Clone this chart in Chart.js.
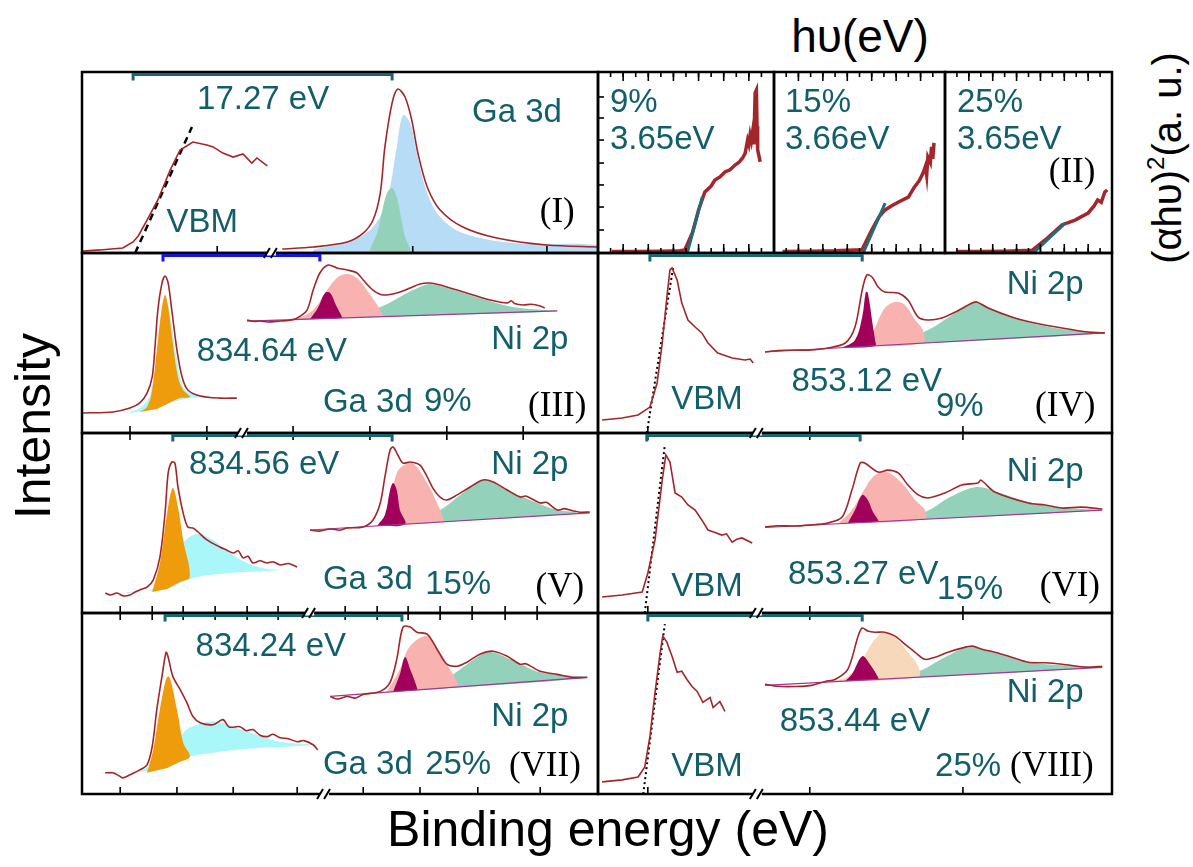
<!DOCTYPE html>
<html>
<head>
<meta charset="utf-8">
<script src="https://cdn.jsdelivr.net/npm/chart.js@4.4.0/dist/chart.umd.min.js"></script>
<style>
  body { margin: 0; width: 1193px; height: 867px; background: #fff; position: relative; overflow: hidden;
         font-family: "Liberation Sans", Arial, sans-serif; }
  canvas { position: absolute; }
  .ax { position: absolute; white-space: nowrap; line-height: 1; color: #000; transform: translate(-50%, -50%); }
  .rot { transform: translate(-50%, -50%) rotate(-90deg); }
  sup { font-size: 0.6em; vertical-align: 0.7em; line-height: 0; }
</style>
</head>
<body>
<div class="ax rot" style="left:33px; top:426px; font-size:50px;">Intensity</div>
<div class="ax" style="left:608px; top:829px; font-size:50px;">Binding energy (eV)</div>
<div class="ax" style="left:860px; top:36px; font-size:46px;">h&upsilon;(eV)</div>
<div class="ax rot" style="left:1167px; top:158px; font-size:40px;">(&alpha;h&upsilon;)<sup>2</sup>(a. u.)</div>
<script>
// ---------- data (x: relative energy axis, y: intensity a.u.) ----------

// panel I : valence band + Ga 3d (undoped)
const vbmI = [[0.2,1.1],[3.5,1.7],[7.9,2.8],[9.9,6.1],[10.9,9.4],[12.6,18.2],[14.7,29.3],[17.1,45.9],[19.0,56.9],[21.5,61.3],[24.2,59.7],[25.4,58.6],[27.3,55.2],[29.3,53],[31.2,54.7],[32.9,49.7],[33.9,52.5],[35.9,48.1]];
const vbmFitI = [[10.3,0],[21.3,69.6]];
const gaEnvI = [[38.8,2.2],[44.8,3.3],[51.4,6.1],[54.5,11],[56.4,18.2],[57.8,33.1],[58.7,58.6],[60.1,82.9],[61.2,90.6],[62.6,86.2],[63.9,73.5],[65.1,55.2],[66.9,36.5],[69.4,23.8],[73.8,14.4],[80.4,8.3],[90.1,4.4],[100,3.3]];
const gaBlueI = [[44.8,0.5],[44.8,1.7],[52.5,7.2],[56.4,14.4],[59.1,29.3],[61.0,58.6],[62.2,76.2],[63.6,71.8],[64.9,55.2],[66.9,33.1],[69.4,19.9],[73.8,11],[83.5,5.5],[100,4.4],[100,0.5]];
const gaGreenI = [[55.8,0.8],[55.8,1.7],[57.2,11],[58.1,22.1],[59.1,33.1],[60.1,35.9],[61.0,30.9],[61.8,19.9],[62.6,8.8],[63.6,2.2],[63.6,0.8]];

// panel II : Tauc plots, hv in eV
const uvA = [[3.11,0.8],[3.3,0.8],[3.5,1.0],[3.65,1.2],[3.69,1.7],[3.75,11],[3.80,23.8],[3.85,33.7],[3.90,37],[3.93,40.3],[3.97,42],[4.01,44.8],[4.05,46],[4.09,48.6],[4.12,50],[4.15,52.5],[4.17,55],[4.19,62.4],[4.20,60],[4.21,65.2],[4.22,62],[4.23,66.9],[4.24,60],[4.25,88.4],[4.26,90],[4.265,70],[4.27,57],[4.29,50.3]];
const uvFitA = [[3.71,0],[3.83,31]];
const uvB = [[3.07,0.8],[3.3,1],[3.5,1.2],[3.72,1.8],[3.80,12.7],[3.86,20],[3.91,23.8],[3.96,26],[4.02,28.2],[4.10,30.9],[4.15,36.5],[4.19,40],[4.22,44.2],[4.24,48],[4.25,43],[4.26,53],[4.28,50],[4.29,58.6],[4.30,52],[4.31,60.8]];
const uvFitB = [[3.73,0],[3.91,27.6]];
const uvC = [[3.10,0.8],[3.3,0.8],[3.5,1],[3.73,1.5],[3.84,7.2],[3.98,15.5],[4.09,18.2],[4.20,22.1],[4.25,26],[4.28,29.3],[4.31,28],[4.34,33.7],[4.36,34.8]];
const uvFitC = [[3.74,0],[4.01,16.6]];
const uvTicks = [3.1,3.2,3.3,3.4,3.5,3.6,3.7,3.8,3.9,4.0,4.1,4.2,4.3];
const uvMajor = [3.2,3.4,3.6,3.8,4.0,4.2];
const uvYTicks = [12.7,25.4,37.6,49.7,62.4,74.6,86.2];

// panel III : Ga 3d + Ni 2p, 9 %
const gaEnvIII = [[0.2,11.1],[6,11.7],[9.3,13.9],[11.2,16.7],[12.6,22.2],[13.6,31.1],[14.1,46.1],[14.7,68.3],[15.5,83.3],[16.1,87.2],[16.7,83.3],[17.4,68.3],[18.4,46.1],[19.4,31.1],[20.5,23.9],[22.9,20.6],[26.7,19.4],[30,19.4]];
const gaCyanIII = [[9.3,11.1],[9.3,11.7],[11.2,13.9],[13.2,21.1],[15.1,57.2],[16.1,75.5],[17.1,65.6],[18.4,40.6],[19.6,25.6],[20.9,22.2],[22.9,21.1],[24.8,20.6],[24.8,20],[20.9,19.4],[17.1,16.7],[13.2,12.8]];
const gaOrangeIII = [[11.2,11.7],[12.6,14.4],[13.6,23.9],[14.5,46.1],[15.5,70],[16.1,76.7],[16.7,70],[17.6,50],[18.6,31.1],[19.6,23.9],[20.9,20],[19,19.4],[16.5,16.1],[14.5,13.3]];
const niEnvIII = [[32,62.8],[33.5,62],[34.5,62.2],[36,61.7],[38.4,62.2],[40,62.5],[41.7,63.9],[43.6,68.3],[44.8,79.4],[46.1,88.9],[47.7,93.3],[49.4,91.7],[51.4,90.6],[53.3,88.9],[54.5,85],[56.4,79.4],[58.3,76.7],[61,77.8],[63.6,80.6],[65.5,82.8],[67.4,83.3],[69.4,82.2],[72.7,79.4],[75.8,76.7],[79.1,73.9],[82.4,72.2],[83.2,73.5],[83.8,72],[85.5,71.1],[87,71.5],[88.8,70.6],[89.7,69.4]];
const niBaseIII = [[32,62.2],[92.1,67.8]];
const niPinkIII = [[41.7,63.3],[44.8,68.3],[47.5,79.4],[49.4,86.1],[51.4,88.3],[53.3,86.1],[55.2,79.4],[57.2,71.1],[58.3,65.6],[58.3,65],[50,63.9],[41.7,62.8]];
const niMagIII = [[44.2,63.3],[45.7,69.4],[47.1,77.8],[48.1,77.8],[49.2,71.1],[50.4,64.4],[50.4,63.9],[44.2,63.3]];
const niGreenIII = [[50,64.4],[57.8,70],[63,77.8],[65.5,81.1],[67.4,82.8],[70.7,80.6],[77.1,75],[83.5,70],[92.1,67.8],[92.1,67.5],[50,63.9]];

// panel IV : VBM + Ni 2p, 9 %
const vbmIV = [[0.8,7.2],[4.7,8.3],[7.8,10],[10.1,14.4],[11.5,27.8],[12.5,50],[13.4,75.5],[14,90.6],[14.4,91.7],[15.4,85],[16.3,72.2],[17.5,62.8],[18.9,58.9],[20.2,55.6],[21.4,50],[23.3,44.4],[26.1,41.7],[28.6,40.6],[29.6,41.1],[30.2,38.9]];
const vbmFitIV = [[9.5,0],[14.6,91.7]];
const niEnvIV = [[32.5,45],[35,45.8],[38.3,46.1],[41,46],[44.7,47.2],[48.1,50],[50,58.9],[51.4,79.4],[52.3,87.8],[53.3,86.7],[54.5,81.1],[55.8,78.3],[58.4,77.8],[60.3,73.9],[62.3,64.4],[64.2,62.8],[66.9,63.9],[69.5,67.2],[72.8,72.2],[73.7,72.8],[75.9,69.4],[80.5,64.4],[85,61.1],[90.3,58.3],[95.3,56.1],[98.6,55.6]];
const niBaseIV = [[32.5,45],[98.6,55.6]];
const niMagIV = [[47.5,47.4],[50,51.7],[51.4,64.4],[52.1,78.3],[52.5,77.8],[53.5,58.9],[53.9,51.7],[53.9,48.4],[47.5,47.4]];
const niPinkIV = [[50.6,48],[53.3,55.6],[55.8,69.4],[57.8,72.8],[59.7,71.1],[61.7,62.8],[63.2,57.2],[63.2,50],[50.6,48]];
const niGreenIV = [[51,48],[57.8,50],[64.2,57.2],[69.5,66.7],[73.3,72.8],[77.2,68.3],[83.7,61.7],[90.3,57.8],[98.6,55.6],[51,48]];

// panel V : Ga 3d + Ni 2p, 15 %
const gaEnvV = [[4.5,11.1],[5.5,10],[6.8,11.1],[8,9.5],[9.3,10],[10.2,11.5],[11.2,12.8],[12.6,14.4],[13.8,18.3],[15.1,31.1],[16.1,55.6],[16.7,77.8],[17.4,83.9],[18,83.3],[18.6,70],[19.6,55.6],[20.5,47.8],[21.5,47.2],[22.5,45],[24.2,40.6],[26.7,36.7],[28,35],[29.3,33.3],[30.3,34.5],[31.2,30.6],[32.2,31.5],[33.1,27.8],[34.5,29],[35.9,27.8],[37,28.5],[38.4,26.7],[40,27.5],[41.7,25.6]];
const gaCyanV = [[8.7,11.1],[8.7,11.7],[13.2,12.8],[16.5,22],[19.6,38.9],[22.3,43.9],[25.4,40.6],[28.7,33.3],[32,27.8],[35.9,24.4],[38.4,23.9],[28.7,22.2],[22.3,20],[19,16.7],[15.1,12.8]];
const gaOrangeV = [[13.6,11.7],[15.1,27.8],[16.5,55.6],[17.6,69.4],[18.6,58.9],[19.6,40.6],[20.9,20],[19,17.2],[16.5,13.3]];
const niEnvV = [[44.2,46.1],[46,45.5],[48.1,46.7],[50,46],[51.4,47.2],[54.5,47.8],[56.4,51.7],[57.8,61.1],[58.7,75.6],[59.7,90.6],[60.3,92.2],[61.2,87.8],[62.2,83.3],[63.6,83.9],[65.5,82.2],[66.9,75.6],[68,69.4],[69.4,64.4],[70.7,62.8],[72.7,65.6],[75.2,70],[77.7,73.9],[79.7,72.8],[82.4,68.3],[84.9,64.4],[86,65],[88.8,61.1],[90,61.5],[92.1,57.2],[93.5,58],[95.2,56.7],[96.5,56],[98.4,56.1]];
const niBaseV = [[44.2,46.1],[98.4,55.6]];
const niMagV = [[57.2,48.4],[58.7,54.4],[59.7,68.3],[60.3,72.2],[61,68.3],[61.6,57.2],[62.6,49.3],[57.2,48.4]];
const niPinkV = [[57.8,48.5],[59.7,55.6],[61,77.8],[63.9,83.3],[66.9,72.2],[68.8,61.1],[70,52.8],[70,50.6],[57.8,48.5]];
const niGreenV = [[63,49.4],[69.4,57.2],[73.3,65.6],[77.7,73.9],[82.4,68.3],[86.8,62.8],[92.1,57.2],[95.6,56.1],[95.6,55.1],[63,49.4]];

// panel VI : VBM + Ni 2p, 15 %
const vbmVI = [[0.8,8.9],[4.7,10],[8.6,11.7],[9.7,22.2],[11.1,40.6],[12.5,73.9],[13.2,87.8],[14,83.9],[15,66.7],[16.3,64.4],[17.5,60],[18.9,57.2],[20.2,51.7],[21.4,46.1],[22.5,45],[24.1,43.3],[25,44],[26.1,39.4],[27,41],[28,41.7],[30,38.9]];
const vbmFitVI = [[9.1,0],[13,93.3]];
const niEnvVI = [[32.5,47.8],[35,48.5],[38.3,48.3],[41,48.8],[44.7,50],[47.5,53.3],[49.4,68.3],[51,83.3],[51.9,83.3],[54.5,78.3],[56.4,79.4],[58.4,77.8],[60.3,71.1],[62.3,65.6],[64.2,63.9],[67.5,66.7],[70.8,71.1],[73.9,72.2],[74.5,73.8],[77.2,67.2],[83.7,61.1],[87,60],[90.3,58.3],[94,58.8],[98.1,57.8]];
const niBaseVI = [[32.5,47.5],[98.1,57.2]];
const niMagVI = [[48.6,49.9],[50,57.2],[51.4,65.6],[52.5,62.8],[53.5,56.1],[54.5,51.7],[54.5,50.8],[48.6,49.9]];
const niPinkVI = [[46.7,49.6],[49.4,57.2],[51.4,66.7],[53.9,76.7],[56.2,78.3],[59.1,72.2],[61.7,62.8],[63.6,57.2],[63.6,52.1],[46.7,49.6]];
const niGreenVI = [[54.5,50.8],[63.6,56.1],[68.5,64.4],[73.7,70],[78.2,66.7],[83.7,61.7],[90.3,58.3],[98.1,57.2],[54.5,50.8]];

// panel VII : Ga 3d + Ni 2p, 25 %
const gaEnvVII = [[4.5,11.7],[6,11.7],[7.2,10],[7.9,8.9],[9.3,10.6],[11.2,13.3],[12.6,16.1],[13.6,26.1],[14.5,46.7],[15.5,65],[16.3,78.3],[16.7,75.6],[17.6,65],[19,57.8],[20.3,50.6],[21.5,42.8],[22.9,39.4],[25.4,38.3],[27.3,41.1],[28.5,37],[30.6,37.2],[31.8,35],[33.1,35.6],[34.5,32.5],[35.9,31.7],[37,33],[38.4,31.1],[40,30.5],[41.7,28.9],[43,29.5],[44.8,27.2],[45.7,24.4]];
const gaCyanVII = [[4.5,11.1],[4.5,11.7],[11.2,12.8],[16,22],[19,31.7],[20.9,36.7],[25.4,40],[29.3,37.2],[33.9,32.8],[38.4,28.9],[44.8,27.2],[32,25],[25.4,22.8],[20.9,20.6],[16.5,14.4],[11.2,12.2]];
const gaOrangeVII = [[12.6,11.7],[13.8,24.4],[15.1,46.7],[16.7,65],[18.4,46.7],[19.6,28.3],[20.9,20.6],[19,17.8],[16.5,14.4]];
const niEnvVII = [[48.1,53.9],[49.5,52.5],[51.4,53.9],[53,53],[54.5,55],[57.8,56.7],[59.7,61.7],[61,74.4],[62.2,92.2],[63.6,92.2],[64.9,89.4],[66.9,88.3],[68.8,80],[70.7,71.7],[72.7,70.6],[74.6,72.8],[77.1,77.2],[79.7,78.9],[82.4,76.1],[84.9,71.7],[86,72],[88.8,67.8],[92.1,66.1],[95.2,64.4],[97.9,64.4]];
const niBaseVII = [[48.1,53.9],[97.9,64.4]];
const niMagVII = [[60.3,56.5],[61.6,66.1],[62.6,75.6],[63.6,68.9],[64.9,58.9],[64.9,57.4],[60.3,56.5]];
const niPinkVII = [[59.1,56.3],[61.6,68.9],[63.6,81.7],[66.9,87.2],[69.4,78.3],[71.3,68.9],[72.7,61.7],[72.7,59.1],[59.1,56.3]];
const niGreenVII = [[64.9,57.4],[69.4,61.1],[73.3,68.9],[78.7,78.3],[83,74.4],[88.8,67.2],[97.9,64.4],[64.9,57.4]];

// panel VIII : VBM + Ni 2p, 25 %
const vbmVIII = [[0.8,6.7],[4.7,7.8],[7.8,9.4],[9.1,15],[10.1,31.7],[11.1,56.1],[12.1,78.3],[12.6,87.2],[13.4,83.9],[14.4,76.1],[15.4,67.2],[16.3,67.8],[17.3,63.3],[18.3,59.4],[19.3,56.7],[20.4,50.6],[21.8,53.3],[22.4,47.8],[23.7,51.1],[24.7,45.6]];
const vbmFitVIII = [[8.8,0],[13,93.9]];
const niEnvVIII = [[32.5,60.6],[35,59.5],[38.3,59.4],[41.6,60],[44.2,62.2],[46.1,63.3],[48.6,68.9],[50.6,87.2],[51.4,91.7],[52.5,90],[53.9,89.4],[55.8,89.4],[57.8,87.2],[59.7,82.8],[61.7,78.3],[63.6,74.4],[65.6,75.6],[68.1,78.3],[70.8,80.6],[72.8,81.7],[74.7,80],[77.2,78.3],[80.5,75.6],[83.7,72.8],[87,72.5],[90.3,71.7],[95.3,70],[98.1,70.6]];
const niBaseVIII = [[32.5,60],[98.1,70]];
const niMagVIII = [[48.1,62.4],[49.4,66.1],[51.4,76.1],[52.9,71.7],[54.5,64.4],[54.5,63.4],[48.1,62.4]];
const niPeachVIII = [[44.7,61.9],[48.6,65],[51.4,74.4],[53.9,85.6],[55.8,89.4],[57.8,86.7],[60.3,78.3],[62.3,70.6],[62.3,64.5],[44.7,61.9]];
const niGreenVIII = [[54.5,63.4],[62.3,67.8],[67.5,75.6],[72,81.1],[76.3,78.9],[83.7,72.8],[90.3,71.1],[98.1,70],[54.5,63.4]];

// axis tick positions
const ticksIb = [26.2, 64.1, 90.1];
const ticksIIIb = [9.3, 24.2, 40.9, 55.8, 70.7, 85.5];
const ticksVb = [7.4, 13.6, 19.6, 25.8, 32, 38, 51, 57.2, 63.2, 69.4, 75.6, 82, 88.2];
const ticksVIIb = [7.4, 18.4, 29.3, 41.7, 54.5, 65.5, 76.7, 88.8];
const ticksRight = [9.7, 41.2, 71];

// ---------- drawing ----------
const P = 9;
const RED = '#a3262a';
const TEAL = '#125e6b';
const BRK = '#1d6472';
const SANS = '"Liberation Sans", Arial, sans-serif';
const SERIF = '"Liberation Serif", "Times New Roman", serif';

const pts = a => a.map(([x, y]) => ({x, y}));
const curve = (a, color, w, t) => ({data: pts(a), borderColor: color, borderWidth: w, fill: false, tension: t || 0});
const area = (a, color) => ({data: pts(a), backgroundColor: color, borderColor: 'rgba(0,0,0,0)', borderWidth: 0, fill: 'shape', tension: 0.35});
const guide = (a, dash, w) => ({data: pts(a), borderColor: '#000', borderWidth: w, borderDash: dash, fill: false});

function makeDeco(d) {
  return {
    id: 'deco',
    afterDatasetsDraw(chart) {
      const {ctx, chartArea: a, scales: {x, y}} = chart;
      ctx.save();
      ctx.strokeStyle = '#000';
      ctx.lineWidth = 2.5;
      ctx.strokeRect(a.left, a.top, a.right - a.left, a.bottom - a.top);

      const tick = (list, len, edge) => (list || []).forEach(v => {
        ctx.beginPath();
        if (edge === 'left') {
          const py = y.getPixelForValue(v);
          ctx.moveTo(a.left, py); ctx.lineTo(a.left + len, py);
        } else {
          const px = x.getPixelForValue(v);
          const y0 = edge === 'top' ? a.top : a.bottom;
          ctx.moveTo(px, y0); ctx.lineTo(px, edge === 'top' ? y0 + len : y0 - len);
        }
        ctx.stroke();
      });
      ctx.lineWidth = 1.6;
      tick(d.top, d.len || 7, 'top');
      tick(d.bottom, d.len || 7, 'bottom');
      tick(d.topMajor, 9, 'top');
      tick(d.bottomMajor, 9, 'bottom');
      tick(d.left, 6, 'left');

      (d.brackets || []).forEach(b => {
        const x0 = x.getPixelForValue(b.x0), x1 = x.getPixelForValue(b.x1);
        const yy = a.top + 2.5;
        ctx.strokeStyle = b.color || BRK;
        ctx.lineWidth = 3;
        ctx.beginPath();
        ctx.moveTo(x0, yy + 6); ctx.lineTo(x0, yy); ctx.lineTo(x1, yy); ctx.lineTo(x1, yy + 6);
        ctx.stroke();
      });

      (d.breaks || []).forEach(b => {
        const px = x.getPixelForValue(b.x);
        const y0 = b.edge === 'top' ? a.top : a.bottom;
        ctx.fillStyle = '#fff';
        ctx.fillRect(px - 5, y0 - 2.5, 9, 5);
        ctx.strokeStyle = '#000';
        ctx.lineWidth = 2;
        ctx.beginPath();
        ctx.moveTo(px - 8, y0 + 5); ctx.lineTo(px - 2, y0 - 5);
        ctx.moveTo(px - 1, y0 + 5); ctx.lineTo(px + 5, y0 - 5);
        ctx.stroke();
      });

      ctx.textBaseline = 'middle';
      (d.labels || []).forEach(l => {
        ctx.font = l.serif ? '35px ' + SERIF : '33px ' + SANS;
        ctx.fillStyle = l.serif ? '#000' : TEAL;
        ctx.textAlign = l.align || 'center';
        ctx.fillText(l.t, x.getPixelForValue(l.x), y.getPixelForValue(l.y));
      });
      ctx.restore();
    }
  };
}

function panel(box, xr, datasets, d) {
  const [l, t, w, h] = box;
  const c = document.createElement('canvas');
  c.width = w + 2 * P;
  c.height = h + 2 * P;
  c.style.left = (l - P) + 'px';
  c.style.top = (t - P) + 'px';
  document.body.appendChild(c);
  return new Chart(c, {
    type: 'line',
    data: {datasets},
    options: {
      responsive: false,
      animation: false,
      events: [],
      layout: {padding: P},
      plugins: {legend: {display: false}, tooltip: {enabled: false}},
      scales: {
        x: {type: 'linear', min: xr[0], max: xr[1], display: false},
        y: {type: 'linear', min: 0, max: 100, display: false}
      },
      elements: {point: {radius: 0}}
    },
    plugins: [makeDeco(d)]
  });
}

const C = {blue: '#b6dcf6', green: '#93d1ba', orange: '#ee9c0c', cyan: '#a9f7f8',
           pink: '#f8b3b0', mag: '#a1015a', peach: '#f8d8bb', base: '#9a3a96', fit: '#1f6c7a'};
const S = 0.3; // smoothing of fitted envelopes

// row I
panel([82, 72, 516, 181], [0, 100], [
  curve(vbmI, RED, 1.6), guide(vbmFitI, [7, 5], 2.5), curve(gaEnvI, RED, 1.6, S),
  area(gaGreenI, C.green), area(gaBlueI, C.blue)
], {
  bottom: ticksIb,
  brackets: [{x0: 9.9, x1: 60.1}],
  labels: [{t: '17.27 eV', x: 35.1, y: 84.5}, {t: 'Ga 3d', x: 84.3, y: 77.3},
           {t: 'VBM', x: 23.3, y: 16.6}, {t: '(I)', x: 92.1, y: 22.1, serif: true}]
});
panel([598, 72, 176, 181], [3.0, 4.4], [curve(uvFitA, C.fit, 3), curve(uvA, RED, 3.5)], {
  top: uvTicks, bottom: uvTicks, topMajor: uvMajor, bottomMajor: uvMajor, len: 5, left: uvYTicks,
  labels: [{t: '9%', x: 3.095, y: 82.9, align: 'left'}, {t: '3.65eV', x: 3.095, y: 62.4, align: 'left'}]
});
panel([774, 72, 171, 181], [3.0, 4.4], [curve(uvFitB, C.fit, 3), curve(uvB, RED, 3.5)], {
  top: uvTicks, bottom: uvTicks, topMajor: uvMajor, bottomMajor: uvMajor, len: 5,
  labels: [{t: '15%', x: 3.09, y: 82.9, align: 'left'}, {t: '3.66eV', x: 3.09, y: 62.4, align: 'left'}]
});
panel([945, 72, 167, 181], [3.0, 4.4], [curve(uvFitC, C.fit, 3), curve(uvC, RED, 3.5)], {
  top: uvTicks, bottom: uvTicks, topMajor: uvMajor, bottomMajor: uvMajor, len: 5,
  labels: [{t: '25%', x: 3.10, y: 82.9, align: 'left'}, {t: '3.65eV', x: 3.10, y: 62.4, align: 'left'},
           {t: '(II)', x: 4.065, y: 44.2, serif: true}]
});

// row III / IV
panel([82, 253, 516, 180], [0, 100], [
  curve(gaEnvIII, RED, 1.6, S), curve(niEnvIII, RED, 1.6, S), curve(niBaseIII, C.base, 1.2),
  area(niMagIII, C.mag), area(niPinkIII, C.pink), area(niGreenIII, C.green),
  area(gaOrangeIII, C.orange), area(gaCyanIII, C.cyan)
], {
  bottom: ticksIIIb,
  brackets: [{x0: 15.7, x1: 46.1, color: '#1414ee'}],
  breaks: [{x: 36.8, edge: 'top'}],
  labels: [{t: '834.64 eV', x: 36.8, y: 45}, {t: 'Ni 2p', x: 86.8, y: 51.7}, {t: 'Ga 3d', x: 55.4, y: 16.7},
           {t: '9%', x: 70.9, y: 17.2}, {t: '(III)', x: 92.1, y: 14.4, serif: true}]
});
panel([598, 253, 514, 180], [0, 100], [
  curve(vbmIV, RED, 1.6), guide(vbmFitIV, [2, 3], 2), curve(niEnvIV, RED, 1.6, S), curve(niBaseIV, C.base, 1.2),
  area(niMagIV, C.mag), area(niPinkIV, C.pink), area(niGreenIV, C.green)
], {
  bottom: ticksRight,
  brackets: [{x0: 10.1, x1: 51.4}],
  labels: [{t: 'Ni 2p', x: 87, y: 82.2}, {t: '853.12 eV', x: 52.3, y: 28.3}, {t: '9%', x: 70.4, y: 14.4},
           {t: 'VBM', x: 21.2, y: 18.3}, {t: '(IV)', x: 90.9, y: 14.4, serif: true}]
});

// row V / VI
panel([82, 433, 516, 180], [0, 100], [
  curve(gaEnvV, RED, 1.6, S), curve(niEnvV, RED, 1.6, S), curve(niBaseV, C.base, 1.2),
  area(niMagV, C.mag), area(niPinkV, C.pink), area(niGreenV, C.green),
  area(gaOrangeV, C.orange), area(gaCyanV, C.cyan)
], {
  top: ticksIIIb, bottom: ticksVb,
  brackets: [{x0: 17.6, x1: 60.1}],
  breaks: [{x: 31.2, edge: 'top'}],
  labels: [{t: '834.56 eV', x: 35.3, y: 82.2}, {t: 'Ni 2p', x: 86.8, y: 82.2}, {t: 'Ga 3d', x: 55.4, y: 18.3},
           {t: '15%', x: 72.9, y: 15.6}, {t: '(V)', x: 92.6, y: 13.9, serif: true}]
});
panel([598, 433, 514, 180], [0, 100], [
  curve(vbmVI, RED, 1.6), guide(vbmFitVI, [2, 3], 2), curve(niEnvVI, RED, 1.6, S), curve(niBaseVI, C.base, 1.2),
  area(niMagVI, C.mag), area(niPinkVI, C.pink), area(niGreenVI, C.green)
], {
  top: ticksRight, bottom: ticksRight,
  brackets: [{x0: 9.5, x1: 51}],
  breaks: [{x: 31.1, edge: 'top'}],
  labels: [{t: 'Ni 2p', x: 87, y: 78.3}, {t: '853.27 eV', x: 51.6, y: 21.1}, {t: '15%', x: 72.4, y: 12.8},
           {t: 'VBM', x: 21.2, y: 14.4}, {t: '(VI)', x: 91.8, y: 14.4, serif: true}]
});

// row VII / VIII
panel([82, 613, 516, 181], [0, 100], [
  curve(gaEnvVII, RED, 1.6, S), curve(niEnvVII, RED, 1.6, S), curve(niBaseVII, C.base, 1.2),
  area(niMagVII, C.mag), area(niPinkVII, C.pink), area(niGreenVII, C.green),
  area(gaOrangeVII, C.orange), area(gaCyanVII, C.cyan)
], {
  top: ticksVb, bottom: ticksVIIb,
  brackets: [{x0: 16.1, x1: 62}],
  breaks: [{x: 44.2, edge: 'top'}, {x: 47.1, edge: 'bottom'}],
  labels: [{t: '834.24 eV', x: 36.6, y: 81.2}, {t: 'Ni 2p', x: 86.8, y: 42.5}, {t: 'Ga 3d', x: 55.4, y: 16},
           {t: '25%', x: 72.9, y: 16}, {t: '(VII)', x: 89.7, y: 14.9, serif: true}]
});
panel([598, 613, 514, 181], [0, 100], [
  curve(vbmVIII, RED, 1.6), guide(vbmFitVIII, [2, 3], 2), curve(niEnvVIII, RED, 1.6, S), curve(niBaseVIII, C.base, 1.2),
  area(niMagVIII, C.mag), area(niPeachVIII, C.peach), area(niGreenVIII, C.green)
], {
  top: ticksRight, bottom: ticksRight,
  brackets: [{x0: 9.7, x1: 51.4}],
  breaks: [{x: 31.1, edge: 'top'}, {x: 31.1, edge: 'bottom'}],
  labels: [{t: 'Ni 2p', x: 87, y: 55.8}, {t: '853.44 eV', x: 50, y: 39.8}, {t: '25%', x: 72, y: 14.9},
           {t: '(VIII)', x: 88.3, y: 14.9, serif: true}, {t: 'VBM', x: 21.2, y: 14.9}]
});
</script>
</body>
</html>
